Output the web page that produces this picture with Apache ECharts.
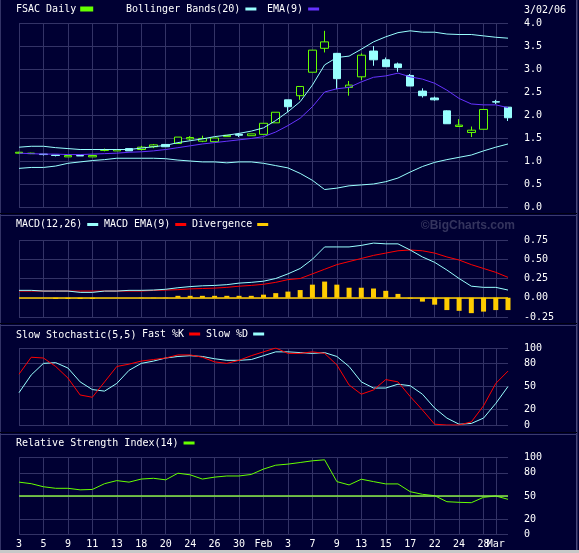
<!DOCTYPE html>
<html><head><meta charset="utf-8">
<script src="https://cdn.jsdelivr.net/npm/echarts@6/dist/echarts.min.js"></script>
<style>html,body{margin:0;padding:0;background:#000033;}#c{width:579px;height:553px;}</style>
</head><body><div id="c"></div>
<script>
const dates = ['2006-01-03','2006-01-04','2006-01-05','2006-01-06','2006-01-09','2006-01-10','2006-01-11','2006-01-12','2006-01-13','2006-01-17','2006-01-18','2006-01-19','2006-01-20','2006-01-23','2006-01-24','2006-01-25','2006-01-26','2006-01-27','2006-01-30','2006-01-31',
'2006-02-01','2006-02-02','2006-02-03','2006-02-06','2006-02-07','2006-02-08','2006-02-09','2006-02-10','2006-02-13','2006-02-14','2006-02-15','2006-02-16','2006-02-17','2006-02-21','2006-02-22','2006-02-23','2006-02-24','2006-02-27','2006-02-28',
'2006-03-01','2006-03-02'];
const labelIdx = [0,2,4,6,8,10,12,14,16,18,20,22,24,26,28,30,32,34,36,38,39];
const monthNames = ['Jan','Feb','Mar'];
// [open, close, low, high]
const ohlc = [
[1.17,1.19,1.16,1.20],[1.16,1.17,1.15,1.18],[1.15,1.14,1.12,1.15],[1.13,1.12,1.10,1.13],
[1.09,1.12,1.09,1.12],[1.12,1.11,1.11,1.12],[1.09,1.12,1.09,1.12],[1.23,1.25,1.21,1.27],
[1.22,1.25,1.22,1.25],[1.27,1.22,1.22,1.27],[1.25,1.30,1.23,1.33],[1.31,1.35,1.28,1.37],
[1.36,1.31,1.31,1.36],[1.38,1.52,1.38,1.52],[1.48,1.51,1.45,1.54],[1.43,1.49,1.41,1.55],
[1.42,1.50,1.42,1.50],[1.53,1.56,1.53,1.56],[1.58,1.56,1.52,1.61],[1.55,1.59,1.55,1.59],
[1.58,1.82,1.58,1.82],[1.83,2.06,1.83,2.06],[2.33,2.18,2.07,2.33],[2.42,2.62,2.33,2.62],
[2.93,3.41,2.93,3.41],[3.45,3.59,3.36,3.83],[3.34,2.79,2.56,3.35],[2.60,2.65,2.42,2.74],
[2.83,3.30,2.76,3.34],[3.39,3.20,3.07,3.50],[3.20,3.05,3.05,3.25],[3.11,3.03,2.94,3.14],
[2.86,2.63,2.63,2.89],[2.52,2.42,2.38,2.58],[2.37,2.33,2.31,2.40],[2.09,1.81,1.81,2.10],
[1.75,1.78,1.75,1.91],[1.62,1.67,1.52,1.75],[1.69,2.12,1.69,2.12],[2.29,2.28,2.24,2.33],
[2.17,1.94,1.87,2.17]];
const bbUpper = [1.30,1.32,1.32,1.29,1.27,1.25,1.25,1.25,1.25,1.25,1.28,1.31,1.34,1.40,1.44,1.48,1.53,1.56,1.60,1.65,1.72,1.88,2.07,2.29,2.65,3.09,3.25,3.28,3.43,3.59,3.70,3.79,3.83,3.80,3.80,3.76,3.75,3.75,3.72,3.69,3.67];
const bbLower = [0.84,0.86,0.86,0.89,0.95,0.98,1.01,1.03,1.06,1.06,1.06,1.06,1.05,1.02,1.00,0.98,0.98,0.96,0.98,0.98,0.95,0.90,0.85,0.73,0.58,0.38,0.41,0.46,0.48,0.50,0.55,0.63,0.76,0.88,0.97,1.03,1.08,1.13,1.22,1.30,1.37];
const ema9 = [1.17,1.16,1.15,1.15,1.14,1.14,1.15,1.16,1.17,1.19,1.20,1.22,1.25,1.29,1.33,1.37,1.40,1.43,1.46,1.49,1.53,1.63,1.77,1.93,2.18,2.50,2.57,2.60,2.72,2.82,2.85,2.91,2.83,2.78,2.69,2.54,2.36,2.24,2.22,2.22,2.16];
const macd = [0.096,0.096,0.087,0.087,0.087,0.07,0.07,0.087,0.087,0.096,0.096,0.10,0.11,0.13,0.145,0.155,0.16,0.17,0.19,0.20,0.215,0.25,0.31,0.38,0.50,0.66,0.66,0.66,0.68,0.71,0.70,0.70,0.62,0.53,0.46,0.36,0.25,0.15,0.135,0.135,0.10];
const macdEma = [0.087,0.087,0.087,0.087,0.087,0.087,0.087,0.087,0.087,0.087,0.087,0.095,0.10,0.105,0.115,0.12,0.125,0.135,0.15,0.16,0.175,0.20,0.235,0.25,0.31,0.37,0.43,0.47,0.51,0.55,0.58,0.61,0.62,0.61,0.58,0.53,0.49,0.43,0.38,0.33,0.265];
const divergence = [0,0,0,-0.015,-0.015,-0.015,-0.015,0,0,0,-0.005,-0.005,-0.005,0.025,0.025,0.025,0.025,0.025,0.025,0.025,0.04,0.06,0.08,0.10,0.17,0.21,0.17,0.13,0.13,0.12,0.09,0.05,-0.01,-0.05,-0.09,-0.16,-0.17,-0.20,-0.18,-0.16,-0.16];
const fastK = [66,88,87,76,61,39,36,56,76,79,83,85,87,91,91,88,82,80,84,90,95,100,93,93,95,93,78,52,40,45.5,59,56,37,19.5,1,0,0,4,25,54,70];
const slowD = [42,65,80,81,74,56,46,44,54,71,80,83,87,89,90,89,86,84,84,85,90,95,95,94,93,94,89,76,56,48,48,53,51,40,22,9,1,2,9,28,50];
const rsi = [68,66,62,60,60,58,58.5,66,70,68,72,73,71,79.6,77.5,72,74.5,76,76,78,85,90,91.4,93.5,95.7,97,68.7,64.4,71.8,68.7,65.7,65.7,55.6,52.2,50.4,42.6,41.8,41.3,48.3,50,45.7];
const priceTicks = {min:0, max:4, interval:0.5};
const macdTicks = {min:-0.25, max:0.75, interval:0.25};
const oscTicks = [0,20,50,80,100];

const BG='#000033', GRID='#333366', WHITE='#ffffff';
const GREEN='#66ff00', CYAN='#99ffff', PURPLE='#6633ff', RED='#ff0000', GOLD='#ffcc00';
const MONO='DejaVu Sans Mono';

function xLabel(v){
  const p=v.split('-'); const d=+p[2];
  return d===1 ? monthNames[+p[1]-1] : String(d);
}
const showIdx = (i)=> labelIdx.indexOf(i) >= 0;
// labels that start a new month are drawn on a companion axis so that they may overlap their neighbour
const isMonthStart = (i)=> +dates[i].split('-')[2] === 1 && dates[i].split('-')[1] !== '02';

const grids = [
  {left:19,right:71,top:23,height:184},
  {left:19,right:71,top:240,height:77},
  {left:19,right:71,top:348,height:77},
  {left:19,right:71,top:457.5,height:77}
];
const xAxes = grids.map((g,k)=>({
  type:'category', gridIndex:k, data:dates, boundaryGap:false, position:'bottom',
  axisLine:{show:false}, axisTick:{show:false},
  splitLine:{show:true, interval:(i)=>showIdx(i), lineStyle:{color:GRID,width:1}},
  axisLabel:{show:k===3, interval:(i)=>showIdx(i) && !isMonthStart(i), formatter:xLabel, color:WHITE, fontFamily:MONO, fontSize:10, margin:5, hideOverlap:false}
}));
xAxes.push({
  type:'category', gridIndex:3, data:dates, boundaryGap:false, position:'bottom',
  axisLine:{show:false}, axisTick:{show:false}, splitLine:{show:false},
  axisLabel:{show:true, interval:(i)=>showIdx(i) && isMonthStart(i), formatter:xLabel, color:WHITE, fontFamily:MONO, fontSize:10, margin:5, hideOverlap:false}
});
const yBase = {position:'right', axisLine:{show:false}, axisTick:{show:false},
  splitLine:{show:true,lineStyle:{color:GRID,width:1}}};
const lbl = {color:WHITE,fontFamily:MONO,fontSize:10,margin:16,align:'left'};
const yAxes = [
  Object.assign({}, yBase, {type:'value',gridIndex:0,min:priceTicks.min,max:priceTicks.max,interval:priceTicks.interval,
    axisLabel:Object.assign({},lbl,{formatter:v=>v.toFixed(1)})}),
  Object.assign({}, yBase, {type:'value',gridIndex:1,min:macdTicks.min,max:macdTicks.max,interval:macdTicks.interval,
    axisLabel:Object.assign({},lbl,{formatter:v=>v.toFixed(2)})}),
  Object.assign({}, yBase, {type:'value',gridIndex:2,min:0,max:100,
    axisTick:{show:false,customValues:oscTicks},
    axisLabel:Object.assign({},lbl,{customValues:oscTicks})}),
  Object.assign({}, yBase, {type:'value',gridIndex:3,min:0,max:100,
    axisTick:{show:false,customValues:oscTicks},
    axisLabel:Object.assign({},lbl,{customValues:oscTicks})})
];
const lineS = (name,data,color,xi)=>({name,type:'line',data,xAxisIndex:xi,yAxisIndex:xi,symbol:'none',
  lineStyle:{color,width:1},itemStyle:{color},silent:true});

const series = [
  {name:'FSAC Daily',type:'candlestick',data:ohlc,xAxisIndex:0,yAxisIndex:0,barWidth:8,
    itemStyle:{color:BG,color0:CYAN,borderColor:GREEN,borderColor0:CYAN,borderWidth:1},silent:true},
  lineS('Bollinger Bands(20)',bbUpper,CYAN,0),
  lineS('Bollinger Bands(20)',bbLower,CYAN,0),
  lineS('EMA(9)',ema9,PURPLE,0),
  {name:'Divergence',type:'bar',data:divergence,xAxisIndex:1,yAxisIndex:1,barWidth:5,itemStyle:{color:GOLD},silent:true,
    markLine:{silent:true,symbol:['none','none'],label:{show:false},lineStyle:{color:GOLD,type:'solid',width:1.5},data:[{yAxis:0}]}},
  lineS('MACD EMA(9)',macdEma,RED,1),
  lineS('MACD(12,26)',macd,CYAN,1),
  lineS('Slow %D',slowD,CYAN,2),
  lineS('Fast %K',fastK,RED,2),
  Object.assign(lineS('Relative Strength Index(14)',rsi,GREEN,3),{
    markLine:{silent:true,symbol:['none','none'],label:{show:false},lineStyle:{color:'#88ee44',type:'solid',width:1.5},data:[{yAxis:50}]}})
];
const legItem = (name,color,left,top)=>({
  data:[{name,itemStyle:{color},lineStyle:{color}}], left, top, align:'right', icon:'rect',
  itemWidth:11, itemHeight:3, padding:0, itemGap:0, selectedMode:false,
  textStyle:{color:WHITE,fontFamily:MONO,fontSize:10,padding:0}
});
const legends = [
  legItem('FSAC Daily',GREEN,16,4),
  legItem('Bollinger Bands(20)',CYAN,126,4),
  legItem('EMA(9)',PURPLE,267,4),
  legItem('MACD(12,26)',CYAN,16,219.5),
  legItem('MACD EMA(9)',RED,104,219.5),
  legItem('Divergence',GOLD,192,219.5),
  legItem('Fast %K',RED,142,329),
  legItem('Slow %D',CYAN,206,329),
  legItem('Relative Strength Index(14)',GREEN,16,438)
];
const txt = (text,x,y,extra)=>({type:'text',x,y,silent:true,style:Object.assign({text,fill:WHITE,font:'10px "DejaVu Sans Mono"',verticalAlign:'middle',align:'left'},extra||{})});
const bar = (x,y,w,h,c)=>({type:'rect',silent:true,shape:{x,y,width:w,height:h},style:{fill:c}});
const graphics = [
  bar(0,0,1,550,GRID),
  bar(576,0,1.5,550,'#4a4a7c'),
  bar(0,213,577,1,'#000010'), bar(0,215,577,1,'#3a3a70'),
  bar(0,323,577,1,'#000010'), bar(0,325,577,1,'#3a3a70'),
  bar(0,432,577,1,'#000010'), bar(0,434,577,1,'#3a3a70'),
  bar(0,550,579,3,'#c8c8c8'),
  txt('3/02/06',524,10),
  txt('Slow Stochastic(5,5)',16,335),
  txt('©BigCharts.com',515,225.5,{align:'right',font:'bold 12px "Liberation Sans"',fill:'#34345e'})
];

const chart = echarts.init(document.getElementById('c'),null,{renderer:'canvas'});
chart.setOption({
  backgroundColor:BG, animation:false,
  grid:grids, xAxis:xAxes, yAxis:yAxes, series, legend:legends,
  graphic:{elements:graphics}
});
</script></body></html>
